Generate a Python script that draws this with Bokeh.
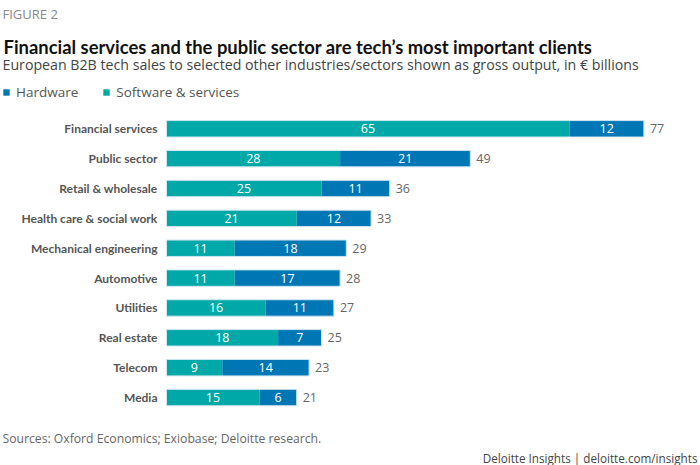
from bokeh.plotting import figure
from bokeh.models import Range1d, Label, Legend, LegendItem, ColumnDataSource
from bokeh.core.properties import value
from bokeh.embed import file_html
from bokeh.resources import INLINE
import numpy as np

categories = ["Financial services", "Public sector", "Retail & wholesale",
              "Health care & social work", "Mechanical engineering", "Automotive",
              "Utilities", "Real estate", "Telecom", "Media"]
software = [65, 28, 25, 21, 11, 11, 16, 18, 9, 15]
hardware = [12, 21, 11, 12, 18, 17, 11, 7, 14, 6]
totals = [77, 49, 36, 33, 29, 28, 27, 25, 23, 21]

TEAL = "#00A9A7"
BLUE = "#0077B5"
W, H = 700, 465
PX_PER_UNIT = 6.2
X0_PX = 166
ROW0_PX = 128.3
ROW_PX = 29.86

idx = np.arange(len(categories))
sw = np.array(software)
hw = np.array(hardware)
src = ColumnDataSource(dict(
    y=idx, cat=categories, sw=sw, hw=hw, tot=sw + hw, tot_lbl=[str(t) for t in totals],
    sw_mid=sw / 2, hw_mid=sw + hw / 2,
    sw_lbl=[str(v) for v in software], hw_lbl=[str(v) for v in hardware],
))

x_range = Range1d(-X0_PX / PX_PER_UNIT, (W - X0_PX) / PX_PER_UNIT)
y_range = Range1d((H - ROW0_PX) / ROW_PX, -ROW0_PX / ROW_PX)

p = figure(width=W, height=H, x_range=x_range, y_range=y_range,
           output_backend="svg", toolbar_location=None, min_border=0,
           x_axis_location=None, y_axis_location=None)
p.grid.visible = False
p.outline_line_color = None
p.background_fill_color = "white"

BAR_H = 0.55
r_sw = p.hbar(y="y", left=0, right="sw", height=BAR_H, source=src,
              fill_color=TEAL, line_color=None)
r_hw = p.hbar(y="y", left="sw", right="tot", height=BAR_H, source=src,
              fill_color=BLUE, line_color=None)
p.hbar(y="y", left=0, right="tot", height=BAR_H, source=src,
       fill_color=None, line_color="#cfe6f0", line_width=1)

FONT = value("Open Sans")
COND = value("Lato")

p.text(x="sw_mid", y="y", text="sw_lbl", source=src, text_align="center",
       text_baseline="middle", text_color="white", text_font=FONT,
       text_font_size="12.5px")
p.text(x="hw_mid", y="y", text="hw_lbl", source=src, text_align="center",
       text_baseline="middle", text_color="white", text_font=FONT,
       text_font_size="12.5px")
p.text(x="tot", y="y", text="tot_lbl", source=src, x_offset=6, text_align="left",
       text_baseline="middle", text_color="#666666", text_font=FONT,
       text_font_size="12.5px")
p.text(x=0, y="y", text="cat", source=src, x_offset=-9, text_align="right",
       text_baseline="middle", text_color="#555555", text_font=COND,
       text_font_style="bold", text_font_size="12px")

def lab(x, y_top_px, text, size, color, font="Open Sans", style="normal", align="left"):
    p.add_layout(Label(x=x, y=H - y_top_px, x_units="screen", y_units="screen",
                       text=text, text_font=font, text_font_size=size,
                       text_font_style=style, text_color=color, text_align=align,
                       text_baseline="alphabetic"))

lab(2, 13, "FIGURE 2", "13px", "#888888")
lab(3, 46, "Financial services and the public sector are tech\u2019s most important clients",
    "18.4px", "#111111", font="Lato", style="bold")
lab(2, 64, "European B2B tech sales to selected other industries/sectors shown as gross output, in \u20ac billions",
    "14.2px", "#444444")
lab(2, 438, "Sources: Oxford Economics; Exiobase; Deloitte research.", "12.2px", "#666666")
lab(697, 457, "Deloitte Insights | deloitte.com/insights", "11.7px", "#444444", align="right")

legend = Legend(items=[LegendItem(label="Hardware", renderers=[r_hw]),
                       LegendItem(label="Software & services", renderers=[r_sw])],
                orientation="horizontal", location=(2, H - 101),
                glyph_width=8, glyph_height=8, label_height=16, label_standoff=6,
                spacing=24, padding=0, margin=0, border_line_color=None,
                background_fill_alpha=0, label_text_font="Open Sans",
                label_text_font_size="13.5px", label_text_color="#555555")
p.add_layout(legend)

open("out.html", "w").write(file_html(p, INLINE))
